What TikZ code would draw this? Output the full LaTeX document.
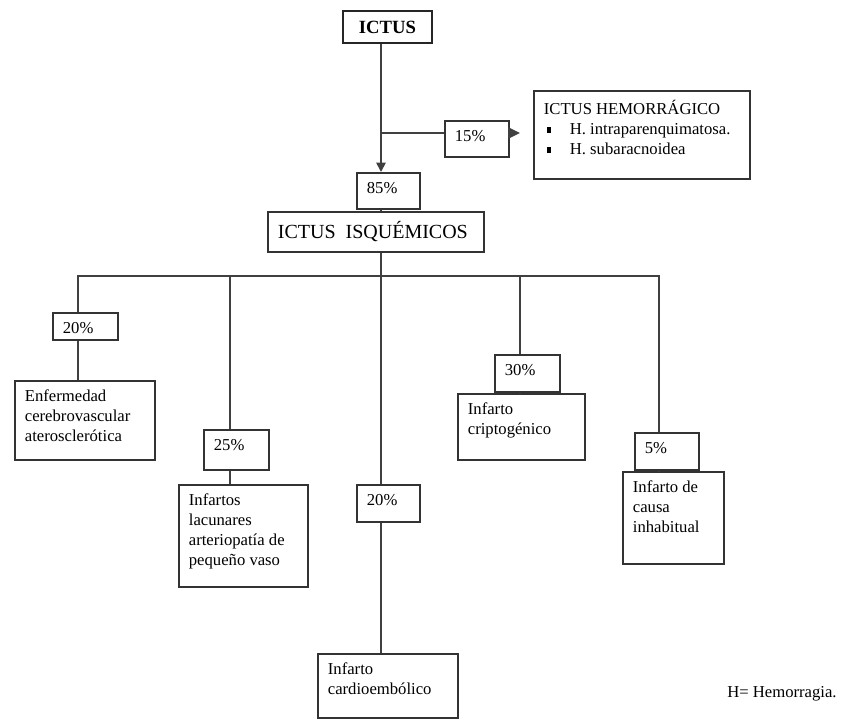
\documentclass[tikz,border=0pt]{standalone}
\usepackage{fontspec}
\setmainfont{Liberation Serif}
\usetikzlibrary{positioning, arrows.meta}

% text set at the top left of a box of W x H pixels
\newcommand{\cellbox}[3]{\parbox[c][\dimexpr #2pt*3/4-14pt\relax][t]{\dimexpr #1pt*3/4-15pt\relax}{\raggedright #3}}
\newcommand{\bulletitem}{\makebox[19.5pt][l]{\hspace{2.5pt}\rule[1pt]{2.6pt}{4.5pt}}}

\begin{document}
\begin{tikzpicture}[x=0.75pt, y=-0.75pt,
  cell/.style={draw=black!80, line width=1.3pt, fill=white, anchor=north west,
    inner xsep=7.5pt, inner ysep=7pt, font=\fontsize{12.5}{15}\selectfont},
  link/.style={draw=black!75, line width=1.3pt}]
\useasboundingbox (0,0) rectangle (843,719);

% Top of the tree
\node[draw=black!85, line width=1.6pt, fill=white, minimum width=66.75pt, minimum height=24pt, inner sep=0pt, font=\bfseries\fontsize{14}{16}\selectfont] (ictus) at (387.5,27) {ICTUS};
\node[cell] (hemo) at (533,90) {\cellbox{216}{88}{ICTUS HEMORRÁGICO\\ \bulletitem H. intraparenquimatosa.\\ \bulletitem H. subaracnoidea}};
\node[cell] (p15) at (444,120) {\cellbox{64}{36}{15\%}};
\node[cell] (p85) at (356,172) {\cellbox{63}{36}{85\%}};
\node[cell, font=\fontsize{15}{18}\selectfont] (isq) at (267,211) {\cellbox{216}{40}{ICTUS\ \ ISQUÉMICOS}};

% Percentages
\node[cell] (pA) at (52,312) {\cellbox{65}{27}{20\%}};
\node[cell] (pB) at (203,429) {\cellbox{65}{40}{25\%}};
\node[cell] (pC) at (356,484) {\cellbox{63}{37}{20\%}};
\node[cell] (pD) at (494,354) {\cellbox{65}{37}{30\%}};
\node[cell] (pE) at (634,432) {\cellbox{64}{37}{5\%}};

% Subtypes
\node[cell] (bA) at (14,380) {\cellbox{140}{79}{Enfermedad\\ cerebrovascular\\ aterosclerótica}};
\node[cell] (bB) at (178,484) {\cellbox{129}{102}{Infartos\\ lacunares\\ arteriopatía de\\ pequeño vaso}};
\node[cell] (bC) at (317,653) {\cellbox{140}{64}{Infarto\\ cardioembólico}};
\node[cell] (bD) at (457,393) {\cellbox{127}{66}{Infarto\\ criptogénico}};
\node[cell] (bE) at (622,471) {\cellbox{101}{92}{Infarto de\\ causa\\ inhabitual}};

\node[anchor=base west, inner sep=0pt, font=\fontsize{12.5}{15}\selectfont] (note) at (727,697) {H= Hemorragia.};

% Connectors
\coordinate (trunk) at (381,133);
\foreach \n/\x in {A/78, B/230, C/381, D/520, E/659}
  \coordinate (drop\n) at (\x,276);

\draw[link, -{Triangle[length=7pt, width=7pt]}] (ictus.south -| trunk) -- (p85.north -| trunk);
\draw[link] (trunk) -- (trunk -| p15.west);
\draw[link, -{Triangle[length=9pt, width=8.5pt]}, shorten >=9.75pt] (p15.east |- trunk) -- (hemo.west |- trunk);
\draw[link] (p85.south -| trunk) -- (isq.north -| trunk);
\draw[link] (isq.south -| trunk) -- (dropC);
\draw[link] (pA.north -| dropA) -- (dropA) -- (dropE) -- (pE.north -| dropE);
\foreach \n in {B, C, D}
  \draw[link] (drop\n) -- (p\n.north -| drop\n);
\foreach \n in {A, B, C, D, E}
  \draw[link] (p\n.south -| drop\n) -- (b\n.north -| drop\n);

\end{tikzpicture}
\end{document}
